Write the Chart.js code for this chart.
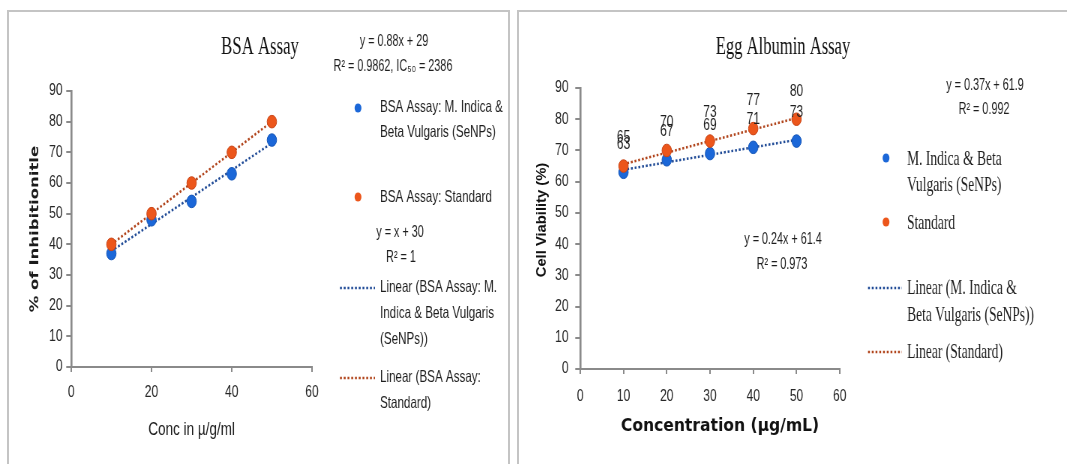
<!DOCTYPE html>
<html>
<head>
<meta charset="utf-8">
<script src="https://cdn.jsdelivr.net/npm/chart.js@4"></script>
<style>
  html, body { margin: 0; padding: 0; background: #fff; }
  body { width: 1067px; height: 464px; position: relative; overflow: hidden; }
  .panel { position: absolute; border: 2px solid #c4c4c4; border-bottom: none; }
  .squeeze { position: absolute; top: 0; transform: scaleX(0.75); transform-origin: 0 0; }
</style>
</head>
<body>
<div class="panel" style="left:7px; top:10px; width:499px; height:460px;"></div>
<div class="panel" style="left:517px; top:10px; width:640px; height:460px;"></div>
<div class="squeeze" style="left:0px;"><canvas id="bsaChart" width="687" height="464"></canvas></div>
<div class="squeeze" style="left:515px;"><canvas id="eggChart" width="736" height="464"></canvas></div>
<script>
// squeeze factor of the whole picture (text and points look narrowed)
const S = 0.75;

// BSA assay
const bsaConc = [10, 20, 30, 40, 50];
const bsaIndica = [37, 48, 54, 63, 74];
const bsaStandard = [40, 50, 60, 70, 80];
const bsaTrendX = [10, 50];
const bsaTrendIndica = [37.8, 73];
const bsaTrendStandard = [40, 80];

// Egg albumin assay
const eggConc = [10, 20, 30, 40, 50];
const eggIndica = [63, 67, 69, 71, 73];
const eggStandard = [65, 70, 73, 77, 80];
const eggTrendX = [10, 50];
const eggTrendIndica = [63.8, 73.4];
const eggTrendStandard = [65.6, 80.4];

const BLUE = '#1b67d8', BLUE_EDGE = '#1556b8', BLUE_TREND = '#1f4a96';
const ORANGE = '#ec561b', ORANGE_EDGE = '#c94517', ORANGE_TREND = '#b0431a';

const SANS = "'Liberation Sans', Arial, sans-serif";
const SERIF = "'Liberation Serif', 'Times New Roman', serif";
const WIDE_BOLD = "bold 17px 'DejaVu Sans', sans-serif";

Chart.defaults.font.family = SANS;
Chart.defaults.color = '#262626';

const pts = (xs, ys) => xs.map((x, i) => ({ x: x, y: ys[i] }));

function datasets(conc, indica, standard, tx, tIndica, tStandard) {
    return [
        { data: pts(conc, standard), backgroundColor: ORANGE, borderColor: ORANGE_EDGE, borderWidth: 1, pointRadius: 6.3, showLine: false },
        { data: pts(conc, indica), backgroundColor: BLUE, borderColor: BLUE_EDGE, borderWidth: 1, pointRadius: 6.3, showLine: false },
        { data: pts(tx, tStandard), showLine: true, borderColor: ORANGE_TREND, borderWidth: 2.5, borderDash: [2.5, 2.5], pointRadius: 0 },
        { data: pts(tx, tIndica), showLine: true, borderColor: BLUE_TREND, borderWidth: 2.5, borderDash: [2.5, 2.5], pointRadius: 0 }
    ];
}

// text and legend drawn at page coordinates, converted to the squeezed canvas
function annotations(offset, items) {
    return {
        id: 'notes',
        afterDraw(chart) {
            const ctx = chart.ctx;
            const X = x => (x - offset) / S;
            items.forEach(t => {
                ctx.save();
                if (t.dot) {
                    ctx.beginPath();
                    ctx.arc(X(t.x), t.y, 4.6, 0, Math.PI * 2);
                    ctx.fillStyle = t.dot;
                    ctx.fill();
                } else if (t.line) {
                    ctx.beginPath();
                    ctx.setLineDash([2.5, 2.5]);
                    ctx.lineWidth = 2.5;
                    ctx.strokeStyle = t.line;
                    ctx.moveTo(X(t.x), t.y);
                    ctx.lineTo(X(t.x2), t.y);
                    ctx.stroke();
                } else {
                    ctx.font = t.font;
                    ctx.fillStyle = t.color || '#1e1e1e';
                    ctx.textAlign = t.align || 'left';
                    ctx.textBaseline = 'middle';
                    ctx.translate(X(t.x), t.y);
                    if (t.rot) ctx.rotate(-Math.PI / 2);
                    ctx.scale(t.sx || 1, 1);
                    ctx.fillText(t.text, 0, 0);
                }
                ctx.restore();
            });
        }
    };
}

// value labels above each point (egg albumin chart)
const pointLabels = {
    id: 'pointLabels',
    afterDatasetsDraw(chart) {
        const ctx = chart.ctx;
        ctx.save();
        ctx.font = '16px ' + SANS;
        ctx.fillStyle = '#1e1e1e';
        ctx.textAlign = 'center';
        ctx.textBaseline = 'middle';
        [0, 1].forEach(i => {
            const meta = chart.getDatasetMeta(i);
            meta.data.forEach((p, j) => {
                ctx.fillText(String(chart.data.datasets[i].data[j].y), p.x, p.y - 28);
            });
        });
        ctx.restore();
    }
};

function axes(opt) {
    return {
        x: {
            type: 'linear', min: 0, max: 60,
            ticks: { stepSize: opt.xStep, padding: opt.xPad, font: { size: 16 } },
            grid: { display: true, drawOnChartArea: false, tickLength: 5, color: '#8a8a8a', lineWidth: 2 },
            border: { color: '#8a8a8a', width: 2 },
            title: { display: !!opt.xTitle, text: opt.xTitle, font: opt.xFont, color: '#1a1a1a' },
            afterFit: s => { s.height = opt.xHeight; }
        },
        y: {
            min: 0, max: 90,
            ticks: { stepSize: 10, padding: opt.yPad, font: { size: 16 } },
            grid: { display: true, drawOnChartArea: false, tickLength: 6.7, color: '#8a8a8a', lineWidth: 2 },
            border: { color: '#8a8a8a', width: 2.6 },
            title: { display: !!opt.yTitle, text: opt.yTitle, font: opt.yFont, color: '#1a1a1a' },
            afterFit: s => { s.width = opt.yWidth; }
        }
    };
}

const eqFont = '16px ' + SANS;
const legSans = '16.5px ' + SANS;

new Chart(document.getElementById('bsaChart'), {
    type: 'scatter',
    data: { datasets: datasets(bsaConc, bsaIndica, bsaStandard, bsaTrendX, bsaTrendIndica, bsaTrendStandard) },
    options: {
        responsive: false,
        animation: false,
        layout: { padding: { left: 33, right: 271, top: 91, bottom: 19 } },
        plugins: { legend: { display: false }, tooltip: { enabled: false } },
        scales: axes({
            xStep: 20, xPad: 11, xHeight: 78, yPad: 5, yWidth: 62,
            xTitle: 'Conc in µ/g/ml', xFont: { size: 18, family: SANS },
            yTitle: '% of Inhibitionitle', yFont: { size: 16.5, weight: 'bold', family: "'DejaVu Sans', sans-serif" }
        })
    },
    plugins: [annotations(0, [
        { text: 'BSA Assay', x: 260, y: 47, font: '26px ' + SERIF, align: 'center', sx: 0.86, color: '#111' },
        { text: 'y = 0.88x + 29', x: 394, y: 42, font: eqFont, align: 'center', sx: 0.9 },
        { text: 'R² = 0.9862, IC₅₀ = 2386', x: 393, y: 67, font: eqFont, align: 'center', sx: 0.9 },
        { dot: BLUE, x: 358, y: 108 },
        { text: 'BSA Assay: M. Indica &', x: 380, y: 107, font: legSans, sx: 0.94 },
        { text: 'Beta Vulgaris (SeNPs)', x: 380, y: 132, font: legSans, sx: 0.94 },
        { dot: ORANGE, x: 358, y: 197 },
        { text: 'BSA Assay: Standard', x: 380, y: 197, font: legSans, sx: 0.94 },
        { text: 'y = x + 30', x: 400, y: 233, font: eqFont, align: 'center', sx: 0.9 },
        { text: 'R² = 1', x: 401, y: 258, font: eqFont, align: 'center', sx: 0.9 },
        { line: BLUE_TREND, x: 340, x2: 375, y: 288 },
        { text: 'Linear (BSA Assay: M.', x: 380, y: 287, font: legSans, sx: 0.94 },
        { text: 'Indica & Beta Vulgaris', x: 380, y: 313, font: legSans, sx: 0.94 },
        { text: '(SeNPs))', x: 380, y: 339, font: legSans, sx: 0.94 },
        { line: ORANGE_TREND, x: 340, x2: 375, y: 378 },
        { text: 'Linear (BSA Assay:', x: 380, y: 377, font: legSans, sx: 0.94 },
        { text: 'Standard)', x: 380, y: 403, font: legSans, sx: 0.94 }
    ])]
});

const legFont = '21px ' + SERIF;

new Chart(document.getElementById('eggChart'), {
    type: 'scatter',
    data: { datasets: datasets(eggConc, eggIndica, eggStandard, eggTrendX, eggTrendIndica, eggTrendStandard) },
    options: {
        responsive: false,
        animation: false,
        layout: { padding: { left: 21, right: 303, top: 88, bottom: 22 } },
        plugins: { legend: { display: false }, tooltip: { enabled: false } },
        scales: axes({ xStep: 10, xPad: 13, xHeight: 73, yPad: 9, yWidth: 66 })
    },
    plugins: [pointLabels, annotations(515, [
        { text: 'Egg Albumin Assay', x: 783, y: 47, font: '26px ' + SERIF, align: 'center', sx: 0.85, color: '#111' },
        { text: 'Concentration (µg/mL)', x: 720, y: 427, font: WIDE_BOLD, align: 'center', sx: 1.22, color: '#111' },
        { text: 'Cell Viability (%)', x: 542, y: 220, font: "bold 18px " + SANS, align: 'center', sx: 0.82, rot: true, color: '#111' },
        { text: 'y = 0.37x + 61.9', x: 985, y: 86, font: eqFont, align: 'center', sx: 0.9 },
        { text: 'R² = 0.992', x: 984, y: 110, font: eqFont, align: 'center', sx: 0.9 },
        { text: 'y = 0.24x + 61.4', x: 783, y: 240, font: eqFont, align: 'center', sx: 0.9 },
        { text: 'R² = 0.973', x: 782, y: 265, font: eqFont, align: 'center', sx: 0.9 },
        { dot: BLUE, x: 886, y: 158 },
        { text: 'M. Indica & Beta', x: 907, y: 159, font: legFont, sx: 0.86 },
        { text: 'Vulgaris (SeNPs)', x: 907, y: 185, font: legFont, sx: 0.86 },
        { dot: ORANGE, x: 886, y: 222 },
        { text: 'Standard', x: 907, y: 223, font: legFont, sx: 0.86 },
        { line: BLUE_TREND, x: 868, x2: 902, y: 288 },
        { text: 'Linear (M. Indica &', x: 907, y: 288, font: legFont, sx: 0.86 },
        { text: 'Beta Vulgaris (SeNPs))', x: 907, y: 315, font: legFont, sx: 0.86 },
        { line: ORANGE_TREND, x: 868, x2: 902, y: 352 },
        { text: 'Linear (Standard)', x: 907, y: 352, font: legFont, sx: 0.86 }
    ])]
});
</script>
</body>
</html>
